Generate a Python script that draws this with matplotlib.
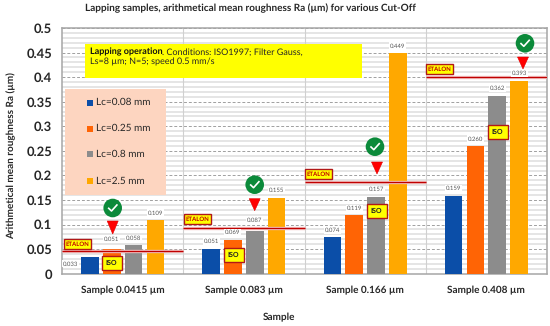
import matplotlib
matplotlib.use("Agg")
import matplotlib.pyplot as plt
from matplotlib.patches import Rectangle, Circle, Polygon
from matplotlib.ticker import MultipleLocator

samples = ["Sample 0.0415 µm", "Sample 0.083 µm", "Sample 0.166 µm", "Sample 0.408 µm"]
series = ["Lc=0.08 mm", "Lc=0.25 mm", "Lc=0.8 mm", "Lc=2.5 mm"]
lc008 = [0.033, 0.051, 0.074, 0.159]
lc025 = [0.051, 0.069, 0.119, 0.260]
lc08 = [0.058, 0.087, 0.157, 0.362]
lc25 = [0.109, 0.155, 0.449, 0.393]
etalon = [0.047, 0.094, 0.187, 0.401]
colors = ["#0B4EA8", "#FF6405", "#8C8C8C", "#FFA800"]

W, H = 550, 326
plt.rcParams["font.family"] = ["Lato", "DejaVu Sans"]
plt.rcParams["text.hinting"] = "no_hinting"
plt.rcParams["text.hinting_factor"] = 1
TXT = "#262626"
fig = plt.figure(figsize=(W / 100, H / 100), dpi=100)
L, R, T, B = 62, 547, 28, 273.7
ax = fig.add_axes([L / W, 1 - B / H, (R - L) / W, (B - T) / H])
ax.set_xlim(-0.5, 3.5)
ax.set_ylim(0, 0.5)
ax.set_axisbelow(True)
ax.yaxis.set_major_locator(MultipleLocator(0.05))
ax.yaxis.set_major_formatter(lambda v, p: f"{v:.2f}".rstrip("0").rstrip(".") if v else "0")
ax.yaxis.set_minor_locator(MultipleLocator(0.01))
ax.grid(which="minor", axis="y", color="#DEDEDE", lw=1.1)
ax.grid(which="major", axis="y", color="#A0A0A0", lw=0.7, ls=(0, (3, 2)))
ax.tick_params(which="both", length=0)
ax.tick_params(axis="y", labelsize=9.3, labelcolor=TXT, pad=7)
ax.set_xticks(range(4), samples, fontsize=7.4, fontweight="bold", color=TXT)
ax.tick_params(axis="x", pad=8.5)
for lab in ax.get_yticklabels():
    lab.set_fontweight("bold")
for s in ax.spines.values():
    s.set_color("#A6A6A6")
    s.set_linewidth(1.1)
for x in (0.5, 1.5, 2.5):
    ax.axvline(x, color="#D0D0D0", lw=0.8, zorder=1)

step, width = 0.18, 0.145
table = [lc008, lc025, lc08, lc25]
for i, vals in enumerate(table):
    xs = [g + (i - 1.5) * step for g in range(4)]
    ax.bar(xs, vals, width, color=colors[i], zorder=3)
    for g, (x, v) in enumerate(zip(xs, vals)):
        dx, dy = 0, 0.0145
        if i == 0 and g == 0:
            dx, dy = -0.16, -0.013
        if i == 1 and g == 0:
            dy = 0.019
        if i == 2 and g == 1:
            dy = 0.022
        ax.text(x + dx, v + dy, f"{v:.3f}", ha="center", va="center", fontsize=4.6,
                color="#555555", zorder=6,
                bbox=dict(fc="white", ec="none", pad=0.6))
for g, v in enumerate(etalon):
    ax.plot([g - 0.5, g + 0.5], [v, v], color="#F2BDBD", lw=2.4, zorder=4, solid_capstyle="butt")
    ax.plot([g - 0.5, g + 0.5], [v, v], color="#C00000", lw=0.9, zorder=5, solid_capstyle="butt")

# overlay in pixel coordinates for callouts
ov = fig.add_axes([0, 0, 1, 1], facecolor="none")
ov.set_xlim(0, W)
ov.set_ylim(H, 0)
ov.axis("off")

ov.add_patch(Rectangle((85, 44), 277, 34, fc="#FFFF00", ec="none"))
ov.text(90, 52, "Lapping operation", fontsize=6.7, fontweight="bold", color="#111111", va="center")
ov.text(162.5, 52, ". Conditions: ISO1997; Filter Gauss,", fontsize=6.7, color=TXT, va="center")
ov.text(90, 62, "Ls=8 µm; N=5; speed 0.5 mm/s", fontsize=6.7, color=TXT, va="center")

ov.add_patch(Rectangle((65, 89), 101, 106, fc="#FDD5C0", ec="none"))
for y, c, s in zip((102.5, 128.5, 154, 181), colors, series):
    ov.add_patch(Rectangle((87, y - 3), 6, 6, fc=c, ec="none"))
    ov.text(96, y, s, fontsize=7.3, color=TXT, va="center")

for x0, y0 in ((63, 238), (183, 213), (304, 168), (425, 63)):
    ov.add_patch(Rectangle((x0 + 0.5, y0 + 0.5), 27, 10.5, fc="#FFFF00", ec="#B01818", lw=1))
    ov.text(x0 + 14, y0 + 5.8, "ETALON", fontsize=4.6, fontweight="bold", color="#C00000",
            ha="center", va="center")
for x0, y0 in ((101, 255), (223, 247), (366, 203), (487, 124)):
    ov.add_patch(Rectangle((x0 + 0.5, y0 + 0.5), 20, 14.5, fc="#FFFF00", ec="#B01818", lw=1, zorder=5))
    ov.text(x0 + 10.5, y0 + 7.8, "ISO", fontsize=5.2, fontweight="bold", color="#222222",
            ha="center", va="center", zorder=6)
for cx, top, bot in ((112.7, 221, 234), (254.7, 198.7, 210.7), (377, 162, 174), (523, 57, 69)):
    ov.add_patch(Polygon([(cx - 5.5, top), (cx + 5.5, top), (cx, bot)], fc="#FF0000", ec="#E00000", lw=0.4))
for cx, cy in ((112.7, 208), (254.7, 184.7), (375, 146.7), (525, 43.3)):
    ov.add_patch(Circle((cx, cy), 9.3, fc="#0B8A3A", ec="none"))
    ov.plot([cx - 4, cx - 1.2, cx + 4.2], [cy + 0.3, cy + 3, cy - 3], color="white", lw=1.2)

fig.text(250.5 / W, 1 - 8.5 / H, "Lapping samples, arithmetical mean roughness Ra (µm) for various Cut-Off",
         ha="center", va="center", fontsize=7.4, fontweight="bold", color=TXT)
fig.text(11 / W, 1 - 156 / H, "Arithmetical mean roughness Ra (µm)", rotation=90,
         ha="center", va="center", fontsize=7.4, fontweight="bold", color=TXT)
fig.text(278.5 / W, 1 - 317 / H, "Sample", ha="center", va="center", fontsize=7.4,
         fontweight="bold", color=TXT)
fig.savefig("out.png", dpi=100)
